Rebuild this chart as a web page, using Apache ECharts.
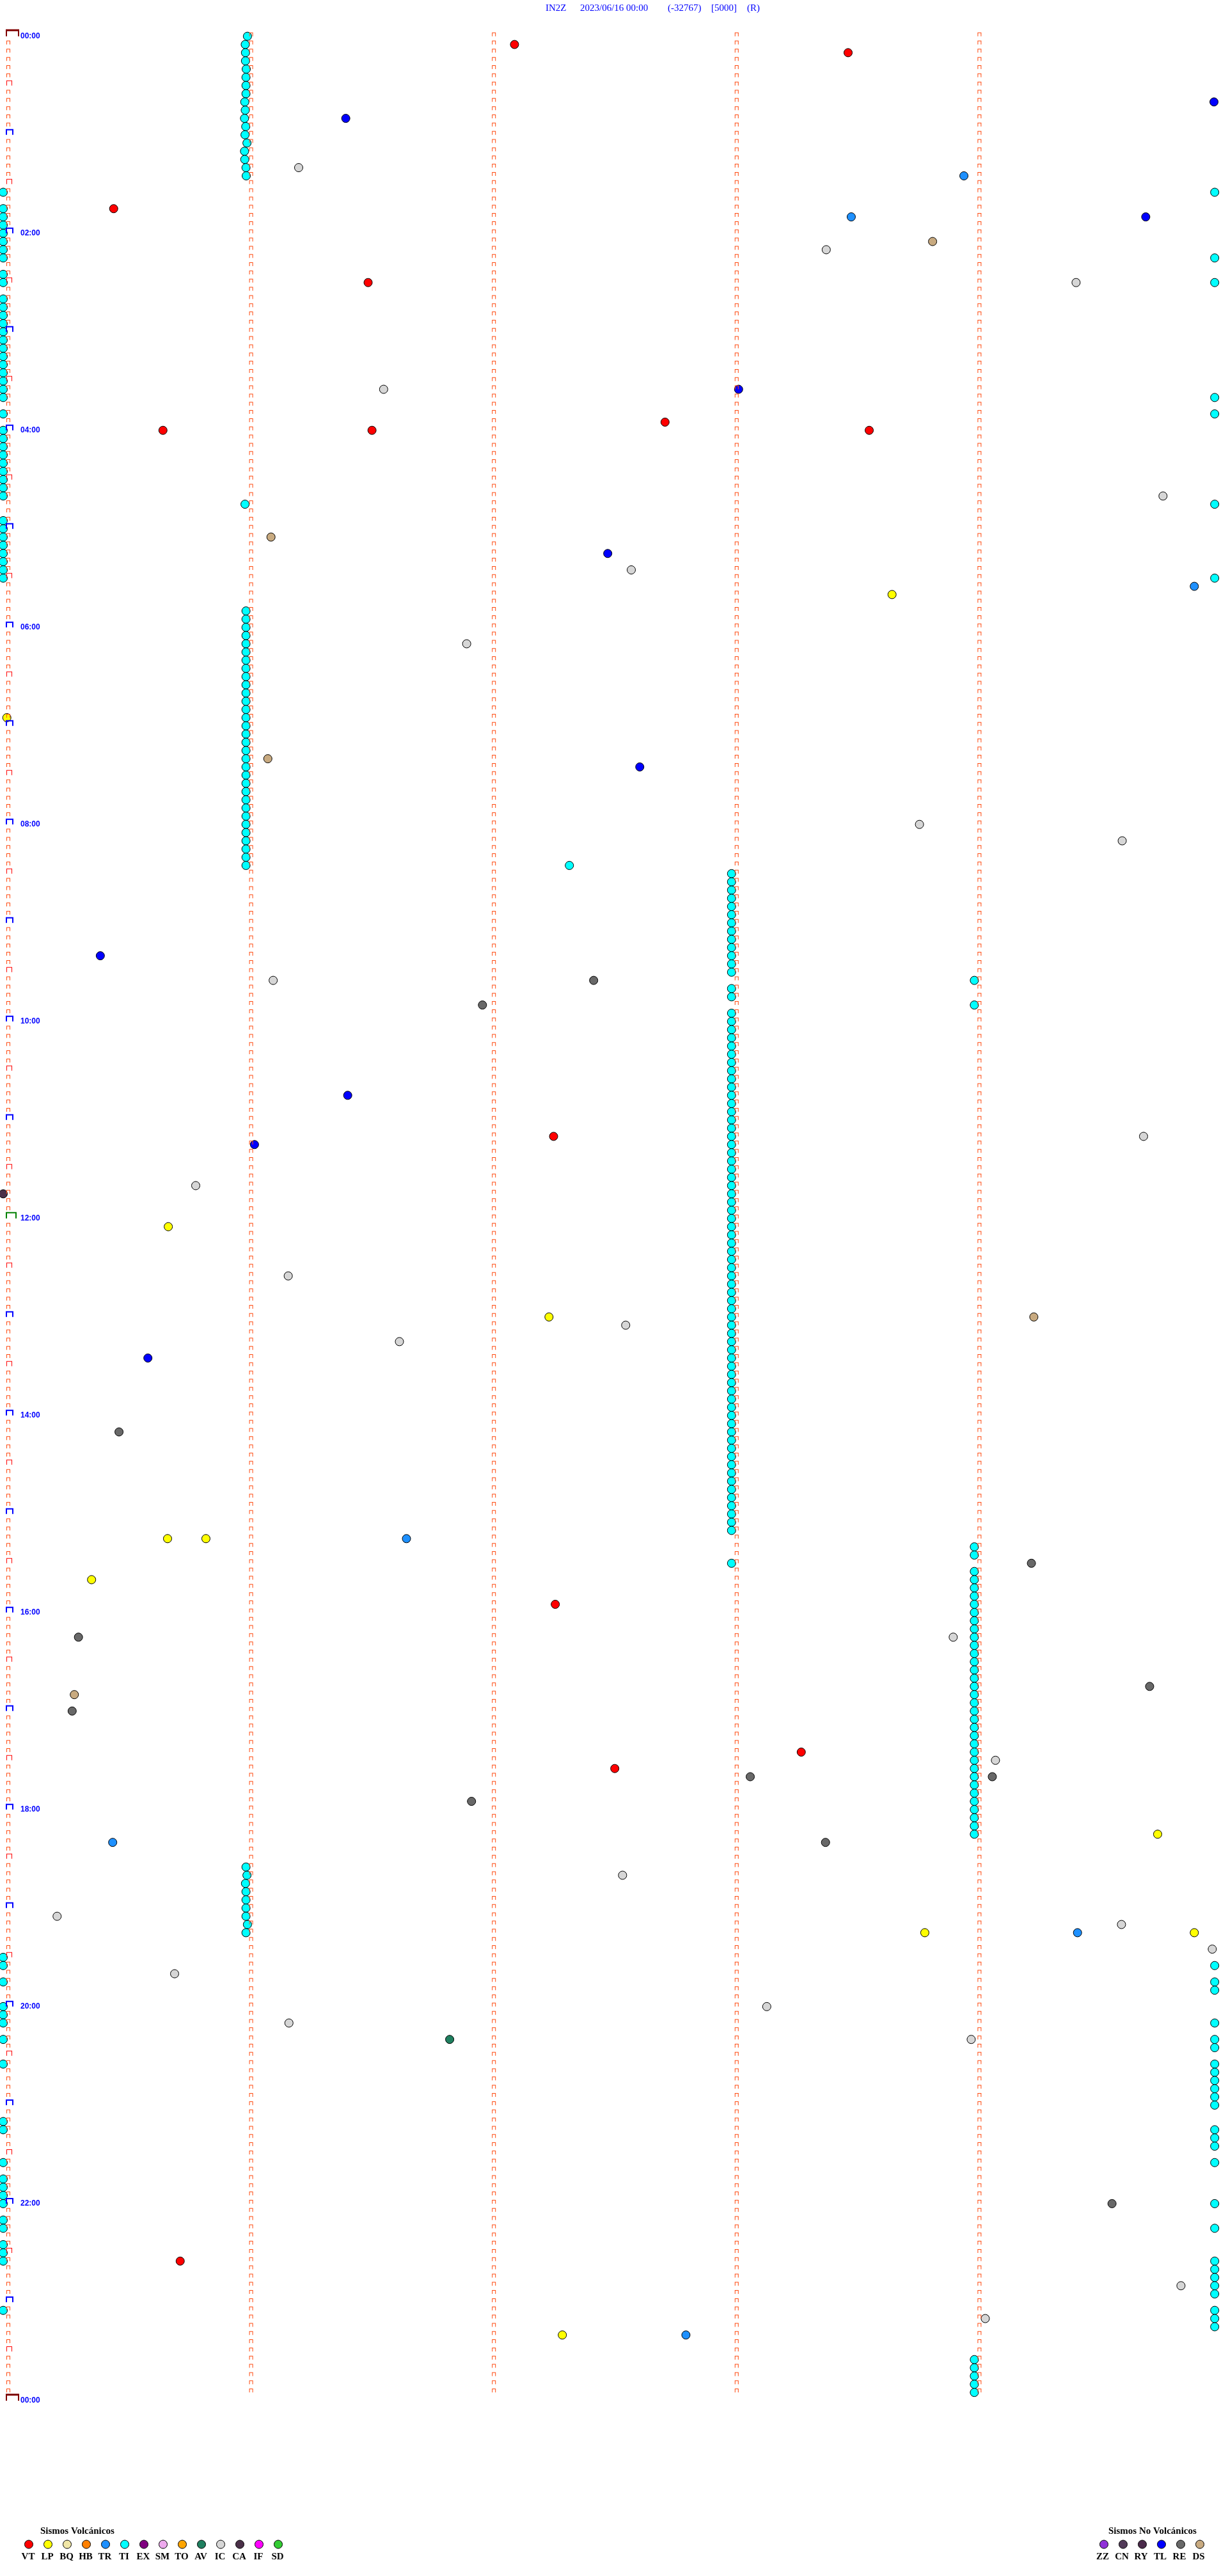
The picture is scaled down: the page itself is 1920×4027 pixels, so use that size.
<!DOCTYPE html>
<html><head><meta charset="utf-8">
<script src="https://cdn.jsdelivr.net/npm/echarts@6/dist/echarts.min.js"></script>
<style>html,body{margin:0;padding:0;background:#fff}#c{width:1920px;height:4027px}</style>
</head><body><div id="c"></div>
<script>
// ---------- header ----------
const titleParts = ['IN2Z', '2023/06/16 00:00', '(-32767)', '[5000]', '(R)'];
// helicorder layout: 288 rows of 5 minutes each (24 h)
const ROWS = 288;
const ROW_MINUTES = 5;
const LABEL_EVERY_ROWS = 24; // every 2 hours

// ---------- events: [minute within row, row index] ----------
const VT = [[2.106,1],[3.480,2],[0.455,21],[1.503,30],[2.726,47],[0.658,48],[1.519,48],[3.567,48],
  [2.267,134],[2.274,191],[3.287,209],[2.519,211],[0.729,271]];
const LP = [[3.661,68],[0.015,83],[0.680,145],[2.248,156],[0.677,183],[0.835,183],[0.364,188],
  [4.755,219],[3.796,231],[4.906,231],[2.303,280]];
const TR = [[3.957,17],[3.493,22],[4.906,67],[1.661,183],[0.451,220],[4.425,231],[2.812,280]];
const AV = [[1.839,244]];
const IC = [[1.217,16],[3.390,26],[4.419,30],[1.567,43],[4.777,56],[2.587,65],[1.909,74],[3.774,96],
  [4.609,98],[1.112,115],[4.697,134],[0.793,140],[1.174,151],[2.564,157],[1.632,159],[3.913,195],
  [4.087,210],[2.551,224],[0.222,229],[4.606,230],[4.980,233],[0.706,236],[3.145,240],[1.177,242],
  [3.987,244],[4.851,274],[4.045,278]];
const CA = [[0.000,141]];
const TL = [[4.987,8],[1.411,10],[4.706,22],[3.029,43],[2.490,63],[2.622,89],[0.400,112],[1.419,129],
  [1.035,135],[0.596,161]];
const RE = [[2.432,115],[1.974,118],[0.477,170],[4.235,186],[0.310,195],[4.722,201],[0.284,204],
  [3.077,212],[4.074,212],[1.929,215],[3.387,220],[4.567,264]];
const DS = [[3.828,25],[1.103,61],[1.090,88],[4.245,156],[0.293,202]];
const TI = [
  // 00:00 - 01:25, around minute 1
  [1.006,0],[0.997,1],[0.998,2],[0.998,3],[1.001,4],[1.000,5],[1.000,6],[1.000,7],[0.995,8],[0.997,9],
  [0.994,10],[0.999,11],[0.996,12],[1.004,13],[0.994,14],[0.995,15],[1.000,16],[1.001,17],
  // 01:35 - 05:30, row starts
  [0,19],[0,21],[0,22],[0,23],[0,24],[0,25],[0,26],[0,27],[0,29],[0,30],[0,32],[0,33],[0,34],[0,35],
  [0,36],[0,37],[0,38],[0,39],[0,40],[0,41],[0,42],[0,43],[0,44],[0,46],[0,48],[0,49],[0,50],[0,51],
  [0,52],[0,53],[0,54],[0,55],[0,56],[0,59],[0,60],[0,61],[0,62],[0,63],[0,64],[0,65],[0,66],
  // row ends
  [4.99,19],[4.99,27],[4.99,30],[4.99,44],[4.99,46],[4.99,57],[4.99,66],
  [0.996,57],
  // 05:50 - 08:25, around minute 1
  [1,70],[1,71],[1,72],[1,73],[1,74],[1,75],[1,76],[1,77],[1,78],[1,79],[1,80],[1,81],[1,82],[1,83],
  [1,84],[1,85],[1,86],[1,87],[1,88],[1,89],[1,90],[1,91],[1,92],[1,93],[1,94],[1,95],[1,96],[1,97],
  [1,98],[1,99],[1,100],[1,101],
  [2.332,101],
  // 08:30 - 15:10, around minute 3
  [3,102],[3,103],[3,104],[3,105],[3,106],[3,107],[3,108],[3,109],[3,110],[3,111],[3,112],[3,113],[3,114],
  [3,116],[3,117],
  [3,119],[3,120],[3,121],[3,122],[3,123],[3,124],[3,125],[3,126],[3,127],[3,128],[3,129],[3,130],
  [3,131],[3,132],[3,133],[3,134],[3,135],[3,136],[3,137],[3,138],[3,139],[3,140],[3,141],[3,142],
  [3,143],[3,144],[3,145],[3,146],[3,147],[3,148],[3,149],[3,150],[3,151],[3,152],[3,153],[3,154],
  [3,155],[3,156],[3,157],[3,158],[3,159],[3,160],[3,161],[3,162],[3,163],[3,164],[3,165],[3,166],
  [3,167],[3,168],[3,169],[3,170],[3,171],[3,172],[3,173],[3,174],[3,175],[3,176],[3,177],[3,178],
  [3,179],[3,180],[3,181],[3,182],[3,186],
  // around minute 4
  [4,115],[4,118],[4,184],[4,185],[4,187],[4,188],[4,189],[4,190],[4,191],[4,192],[4,193],[4,194],
  [4,195],[4,196],[4,197],[4,198],[4,199],[4,200],[4,201],[4,202],[4,203],[4,204],[4,205],[4,206],
  [4,207],[4,208],[4,209],[4,210],[4,211],[4,212],[4,213],[4,214],[4,215],[4,216],[4,217],[4,218],[4,219],
  [4,283],[4,284],[4,285],[4,286],[4,287],
  // 18:35 - 19:15, around minute 1
  [1,223],[1.004,224],[0.998,225],[1,226],[1,227],[1,228],[1,229],[1.006,230],[1,231],
  // evening, row starts
  [0,234],[0,235],[0,237],[0,240],[0,241],[0,242],[0,244],[0,247],[0,254],[0,255],[0,259],[0,261],
  [0,262],[0,263],[0,264],[0,266],[0,267],[0,269],[0,270],[0,271],[0,277],
  // evening, row ends
  [4.99,235],[4.99,237],[4.99,238],[4.99,242],[4.99,244],[4.99,245],[4.99,247],[4.99,248],[4.99,249],
  [4.99,250],[4.99,251],[4.99,252],[4.99,255],[4.99,256],[4.99,257],[4.99,259],[4.99,264],[4.99,267],
  [4.99,271],[4.99,272],[4.99,273],[4.99,274],[4.99,275],[4.99,277],[4.99,278],[4.99,279]
];

// ---------- legend entries ----------
const volcanicTypes = ['VT','LP','BQ','HB','TR','TI','EX','SM','TO','AV','IC','CA','IF','SD'];
const nonVolcanicTypes = ['ZZ','CN','RY','TL','RE','DS'];

const COLORS = {
  VT:'#ff0000', LP:'#ffff00', BQ:'#f0e6a6', HB:'#ff8000', TR:'#1e90ff', TI:'#00ffff', EX:'#800080',
  SM:'#eeaaee', TO:'#ffa500', AV:'#1f7f5f', IC:'#d6d6d6', CA:'#4a3048', IF:'#ff00ff', SD:'#33cc33',
  ZZ:'#9030d8', CN:'#523a58', RY:'#4a2a4a', TL:'#0000ff', RE:'#686868', DS:'#c8aa80'
};
const EVENTS = {VT, LP, TR, TI, AV, IC, CA, TL, RE, DS};

// ---------- minute marks (decoration of the helicorder) ----------
const marks = {small:[], half:[], hour:[], noon:[], day:[]};
for (let r = 0; r <= ROWS; r++) {
  for (let c = 0; c < ROW_MINUTES; c++) {
    if (r === ROWS) { if (c === 0) marks.day.push([0, r]); continue; }
    if (c === 0) {
      if (r % ROWS === 0) marks.day.push([0, r]);
      else if (r === ROWS / 2) marks.noon.push([0, r]);
      else if (r % 12 === 0) marks.hour.push([0, r]);
      else if (r % 6 === 0) marks.half.push([0, r]);
      else marks.small.push([0, r]);
    } else marks.small.push([c, r]);
  }
}
const markStyles = {
  small: {path:'path://M0,0H6V6H5V1H1V6H0Z', size:[6,6], off:[8,-3], color:'#ff4a10'},
  half:  {path:'path://M0,0H9V8H8V1H1V8H0Z', size:[9,8], off:[9.5,-4], color:'#ff0000'},
  hour:  {path:'path://M0,0H12V9H10V2H2V9H0Z', size:[12,9], off:[10,-4.5], color:'#0000ff'},
  noon:  {path:'path://M0,0H17V10H15V2H2V10H0Z', size:[17,10], off:[12.5,-5], color:'#008000'},
  day:   {path:'path://M0,0H21V11H19V3H2V11H0Z', size:[21,11], off:[14.5,-5.5], color:'#800000'}
};

const series = [];
Object.keys(EVENTS).forEach(k => {
  series.push({
    name: k, type: 'scatter', data: EVENTS[k], symbol: 'circle', symbolSize: 13, clip: false,
    itemStyle: {color: COLORS[k], borderColor: '#000', borderWidth: 1, opacity: 1},
    z: 2, silent: true
  });
});
Object.keys(marks).forEach(k => {
  const s = markStyles[k];
  series.push({
    name: 'mark_' + k, type: 'scatter', data: marks[k], symbol: s.path, symbolSize: s.size,
    symbolOffset: s.off, clip: false, itemStyle: {color: s.color, borderWidth: 0, opacity: 1},
    z: 3, silent: true
  });
});

// ---------- graphics: title + legends ----------
const graphic = [];
const titleX = [853, 907, 1044, 1112, 1168];
titleParts.forEach((t, i) => graphic.push({type:'text', x:titleX[i], y:13,
  style:{text:t, font:'15px "Liberation Serif"', fill:'#0000ff', verticalAlign:'middle', align:'left'}}));

const LEG_CY = 3977.5, LEG_TY = 3997;
graphic.push({type:'text', x:63, y:3957, style:{text:'Sismos Volcánicos', font:'bold 15px "Liberation Serif"', fill:'#000', verticalAlign:'middle', align:'left'}});
volcanicTypes.forEach((t, i) => {
  const cx = 45 + 30 * i;
  graphic.push({type:'circle', shape:{cx, cy:LEG_CY, r:6.5}, style:{fill:COLORS[t], stroke:'#000', lineWidth:1}});
  graphic.push({type:'text', x:cx - 1, y:LEG_TY, style:{text:t, font:'bold 15px "Liberation Serif"', fill:'#000', verticalAlign:'middle', align:'center'}});
});
graphic.push({type:'text', x:1733, y:3957, style:{text:'Sismos No Volcánicos', font:'bold 15px "Liberation Serif"', fill:'#000', verticalAlign:'middle', align:'left'}});
nonVolcanicTypes.forEach((t, i) => {
  const cx = 1726 + 30 * i;
  graphic.push({type:'circle', shape:{cx, cy:LEG_CY, r:6.5}, style:{fill:COLORS[t], stroke:'#000', lineWidth:1}});
  graphic.push({type:'text', x:cx - 2, y:LEG_TY, style:{text:t, font:'bold 15px "Liberation Serif"', fill:'#000', verticalAlign:'middle', align:'center'}});
});

const pad = n => String(n).padStart(2, '0');
const chart = echarts.init(document.getElementById('c'), null, {renderer:'canvas'});
chart.setOption({
  animation: false,
  backgroundColor: '#ffffff',
  grid: {left: 5, right: 17, top: 56.7, bottom: 274.1, containLabel: false},
  xAxis: {type:'value', min:0, max:ROW_MINUTES, show:false},
  yAxis: {type:'value', inverse:true, min:0, max:ROWS, interval:LABEL_EVERY_ROWS, position:'left',
    axisLine:{show:false}, axisTick:{show:false}, splitLine:{show:false},
    axisLabel:{inside:true, margin:27, showMinLabel:true, showMaxLabel:true,
      color:'#0000ff', fontWeight:'bold', fontSize:12, fontFamily:'"Liberation Sans", Arial',
      verticalAlign:'middle', padding:[0,0,14,0],
      formatter: v => pad(Math.floor(v * ROW_MINUTES / 60) % 24) + ':00'}},
  series,
  graphic
});
</script></body></html>
